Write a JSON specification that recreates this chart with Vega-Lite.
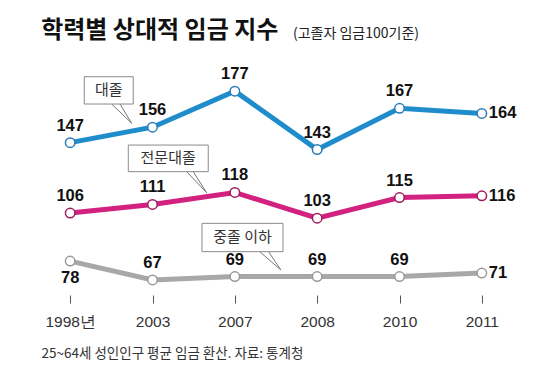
{
  "$schema": "https://vega.github.io/schema/vega-lite/v6.json",
  "width": 494,
  "height": 206,
  "autosize": {"type": "none"},
  "padding": {"left": 29, "top": 86, "right": 26, "bottom": 96},
  "background": "white",
  "config": {"view": {"stroke": null}},
  "datasets": {
    "wages": [
      {"year": "1998년", "idx": 0, "group": "대졸", "value": 147},
      {"year": "2003", "idx": 1, "group": "대졸", "value": 156},
      {"year": "2007", "idx": 2, "group": "대졸", "value": 177},
      {"year": "2008", "idx": 3, "group": "대졸", "value": 143},
      {"year": "2010", "idx": 4, "group": "대졸", "value": 167},
      {"year": "2011", "idx": 5, "group": "대졸", "value": 164},
      {"year": "1998년", "idx": 0, "group": "전문대졸", "value": 106},
      {"year": "2003", "idx": 1, "group": "전문대졸", "value": 111},
      {"year": "2007", "idx": 2, "group": "전문대졸", "value": 118},
      {"year": "2008", "idx": 3, "group": "전문대졸", "value": 103},
      {"year": "2010", "idx": 4, "group": "전문대졸", "value": 115},
      {"year": "2011", "idx": 5, "group": "전문대졸", "value": 116},
      {"year": "1998년", "idx": 0, "group": "중졸 이하", "value": 78},
      {"year": "2003", "idx": 1, "group": "중졸 이하", "value": 67},
      {"year": "2007", "idx": 2, "group": "중졸 이하", "value": 69},
      {"year": "2008", "idx": 3, "group": "중졸 이하", "value": 69},
      {"year": "2010", "idx": 4, "group": "중졸 이하", "value": 69},
      {"year": "2011", "idx": 5, "group": "중졸 이하", "value": 71}
    ],
    "callouts": [
      {"label": "대졸", "x0": 0.171, "x1": 0.766, "y0": 185.4, "y1": 169.5, "tx": 0.468, "ty": 177.45},
      {"label": "전문대졸", "x0": 0.706, "x1": 1.677, "y0": 145.6, "y1": 130.1, "tx": 1.19, "ty": 137.85},
      {"label": "중졸 이하", "x0": 1.601, "x1": 2.585, "y0": 100.0, "y1": 83.5, "tx": 2.093, "ty": 91.75}
    ],
    "tails": [
      {"label": "대졸", "ax": 0.504, "ay": 169.5, "bx": 0.747, "by": 158.3},
      {"label": "대졸", "ax": 0.605, "ay": 169.5, "bx": 0.747, "by": 158.3},
      {"label": "전문대졸", "ax": 1.415, "ay": 130.1, "bx": 1.658, "by": 117.8},
      {"label": "전문대졸", "ax": 1.495, "ay": 130.1, "bx": 1.658, "by": 117.8},
      {"label": "중졸 이하", "ax": 2.302, "ay": 83.5, "bx": 2.56, "by": 72.8},
      {"label": "중졸 이하", "ax": 2.409, "ay": 83.5, "bx": 2.56, "by": 72.8}
    ],
    "notes": [
      {"kind": "title", "text": "학력별 상대적 임금 지수", "nx": -0.352, "ny": 208.25},
      {"kind": "subtitle", "text": "(고졸자 임금100기준)", "nx": 2.706, "ny": 208.25}
    ]
  },
  "layer": [
    {
      "data": {"name": "wages"},
      "mark": {"type": "line", "strokeWidth": 5},
      "encoding": {
        "x": {
          "field": "idx", "type": "quantitative",
          "scale": {"domain": [-0.5, 5.5], "nice": false, "zero": false},
          "axis": {
            "values": [0, 1, 2, 3, 4, 5],
            "labelExpr": "['1998년','2003','2007','2008','2010','2011'][datum.value]",
            "domain": false, "grid": false,
            "ticks": true, "tickColor": "#555555", "tickSize": 8, "tickWidth": 1,
            "offset": 3, "labelPadding": 11,
            "labelFont": "Liberation Sans, Arial, sans-serif", "labelFontSize": 15.5, "labelColor": "#333333",
            "title": "25~64세 성인인구 평균 임금 환산. 자료: 통계청",
            "titleX": 12, "titleY": 62, "titleAlign": "left", "titleAnchor": "start", "titleBaseline": "alphabetic",
            "titleFont": "Noto Sans CJK KR", "titleFontSize": 13.5, "titleFontWeight": "normal", "titleColor": "#333333"
          }
        },
        "y": {
          "field": "value", "type": "quantitative",
          "scale": {"domain": [60, 180], "nice": false, "zero": false},
          "axis": null
        },
        "color": {
          "field": "group", "type": "nominal",
          "scale": {"domain": ["대졸", "전문대졸", "중졸 이하"], "range": ["#1f8ccc", "#d2217f", "#a8a8a8"]},
          "legend": null
        }
      }
    },
    {
      "data": {"name": "wages"},
      "mark": {"type": "point", "shape": "circle", "filled": false, "fill": "white", "fillOpacity": 1, "size": 90, "strokeWidth": 1.5, "opacity": 1},
      "encoding": {
        "x": {"field": "idx", "type": "quantitative"},
        "y": {"field": "value", "type": "quantitative"},
        "stroke": {
          "field": "group", "type": "nominal",
          "scale": {"domain": ["대졸", "전문대졸", "중졸 이하"], "range": ["#2b7bb9", "#a0195f", "#9a9a9a"]},
          "legend": null
        }
      }
    },
    {
      "data": {"name": "wages"},
      "transform": [{"filter": "datum.idx < 5 && !(datum.group === '중졸 이하' && datum.idx === 0)"}],
      "mark": {"type": "text", "font": "Liberation Sans, Arial, sans-serif", "fontSize": 16.5, "fontWeight": "bold", "dy": -17, "baseline": "middle", "color": "#111111"},
      "encoding": {
        "x": {"field": "idx", "type": "quantitative"},
        "y": {"field": "value", "type": "quantitative"},
        "text": {"field": "value", "type": "quantitative"}
      }
    },
    {
      "data": {"name": "wages"},
      "transform": [{"filter": "datum.idx === 5"}],
      "mark": {"type": "text", "font": "Liberation Sans, Arial, sans-serif", "fontSize": 16.5, "fontWeight": "bold", "dx": 7, "align": "left", "baseline": "middle", "color": "#111111"},
      "encoding": {
        "x": {"field": "idx", "type": "quantitative"},
        "y": {"field": "value", "type": "quantitative"},
        "text": {"field": "value", "type": "quantitative"}
      }
    },
    {
      "data": {"name": "wages"},
      "transform": [{"filter": "datum.group === '중졸 이하' && datum.idx === 0"}],
      "mark": {"type": "text", "font": "Liberation Sans, Arial, sans-serif", "fontSize": 16.5, "fontWeight": "bold", "dy": 17, "baseline": "middle", "color": "#111111"},
      "encoding": {
        "x": {"field": "idx", "type": "quantitative"},
        "y": {"field": "value", "type": "quantitative"},
        "text": {"field": "value", "type": "quantitative"}
      }
    },
    {
      "data": {"name": "tails"},
      "mark": {"type": "rule", "stroke": "#777777", "strokeWidth": 1},
      "encoding": {
        "x": {"field": "ax", "type": "quantitative"},
        "y": {"field": "ay", "type": "quantitative"},
        "x2": {"field": "bx"},
        "y2": {"field": "by"}
      }
    },
    {
      "data": {"name": "callouts"},
      "mark": {"type": "rect", "fill": "white", "stroke": "#8a8a8a", "strokeWidth": 1},
      "encoding": {
        "x": {"field": "x0", "type": "quantitative"},
        "x2": {"field": "x1"},
        "y": {"field": "y0", "type": "quantitative"},
        "y2": {"field": "y1"}
      }
    },
    {
      "data": {"name": "callouts"},
      "mark": {"type": "text", "font": "Noto Sans CJK KR", "fontSize": 15, "baseline": "middle", "align": "center", "color": "#333333"},
      "encoding": {
        "x": {"field": "tx", "type": "quantitative"},
        "y": {"field": "ty", "type": "quantitative"},
        "text": {"field": "label", "type": "nominal"}
      }
    },
    {
      "data": {"name": "notes"},
      "transform": [{"filter": "datum.kind === 'title'"}],
      "mark": {"type": "text", "font": "Noto Sans CJK KR", "fontSize": 24, "fontWeight": "bold", "baseline": "alphabetic", "align": "left", "color": "#111111"},
      "encoding": {
        "x": {"field": "nx", "type": "quantitative"},
        "y": {"field": "ny", "type": "quantitative"},
        "text": {"field": "text", "type": "nominal"}
      }
    },
    {
      "data": {"name": "notes"},
      "transform": [{"filter": "datum.kind === 'subtitle'"}],
      "mark": {"type": "text", "font": "Noto Sans CJK KR", "fontSize": 14, "baseline": "alphabetic", "align": "left", "color": "#222222"},
      "encoding": {
        "x": {"field": "nx", "type": "quantitative"},
        "y": {"field": "ny", "type": "quantitative"},
        "text": {"field": "text", "type": "nominal"}
      }
    }
  ]
}
